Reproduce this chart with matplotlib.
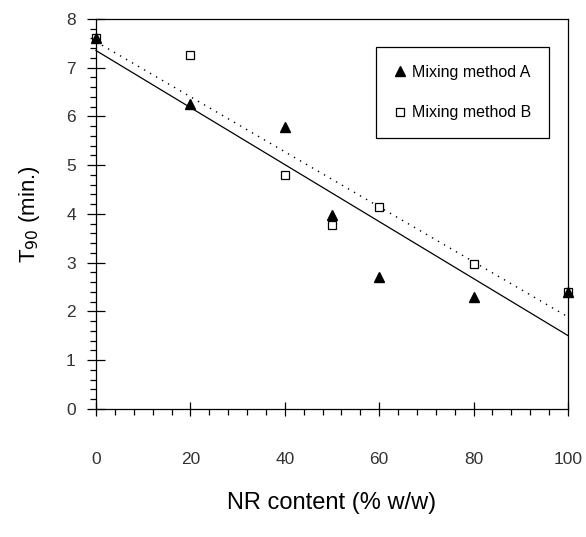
import numpy as np
import matplotlib.pyplot as plt
from matplotlib.ticker import MultipleLocator

plt.rcParams['font.family'] = ['Liberation Sans', 'DejaVu Sans']

# NR content (% w/w)
nr_content = [0, 20, 40, 50, 60, 80, 100]
# T90 (min.) for each mixing method
t90_a = [7.6, 6.25, 5.78, 3.97, 2.70, 2.30, 2.40]
t90_b = [7.6, 7.27, 4.80, 3.78, 4.15, 2.98, 2.40]
labels = ['Mixing method A', 'Mixing method B']

fig = plt.figure(figsize=(5.86, 5.37), dpi=100)
ax = fig.add_axes([0.1638, 0.2384, 0.8055, 0.7263])

# linear fits through each data set
xfit = np.array([0, 100])
slope_a, icpt_a = np.polyfit(nr_content, t90_a, 1)
slope_b, icpt_b = np.polyfit(nr_content, t90_b, 1)
ax.plot(xfit, icpt_a + slope_a * xfit, color='black', lw=0.9, clip_on=False)
ax.plot(xfit, icpt_b + slope_b * xfit, color='black', lw=1.0, ls=(0, (1, 4)), clip_on=False)

ax.plot(nr_content, t90_a, ls='none', marker='^', ms=7.5, color='black',
        label=labels[0], clip_on=False, zorder=4)
ax.plot(nr_content, t90_b, ls='none', marker='s', ms=5.5, mfc='white', mec='black',
        mew=0.9, label=labels[1], clip_on=False, zorder=3)

ax.set_xlim(0, 100)
ax.set_ylim(0, 8)
ax.xaxis.set_major_locator(MultipleLocator(20))
ax.xaxis.set_minor_locator(MultipleLocator(4))
ax.yaxis.set_major_locator(MultipleLocator(1))
ax.yaxis.set_minor_locator(MultipleLocator(0.2))

for s in ax.spines.values():
    s.set_linewidth(0.9)

ax.tick_params(axis='x', which='major', direction='inout', length=9.5, width=0.9,
               pad=26, labelsize=12.5, labelcolor='#333333')
ax.tick_params(axis='x', which='minor', direction='out', length=4, width=0.9)
ax.tick_params(axis='y', which='major', direction='inout', length=13, width=0.9,
               pad=8, labelsize=12.5, labelcolor='#333333')
ax.tick_params(axis='y', which='minor', direction='out', length=4.3, width=0.9)

ax.set_xlabel('NR content (% w/w)', fontsize=17, labelpad=18)
ax.set_ylabel('T$_{90}$ (min.)', fontsize=16, labelpad=17)

leg = ax.legend(loc='upper right', bbox_to_anchor=(0.96, 0.928), fontsize=11.5,
                frameon=True, fancybox=False, edgecolor='black', framealpha=1,
                handlelength=0.8, handletextpad=0.4, labelspacing=1.6,
                borderpad=1.1, borderaxespad=0)
leg.get_frame().set_linewidth(0.9)

fig.savefig('out.png', dpi=100)
